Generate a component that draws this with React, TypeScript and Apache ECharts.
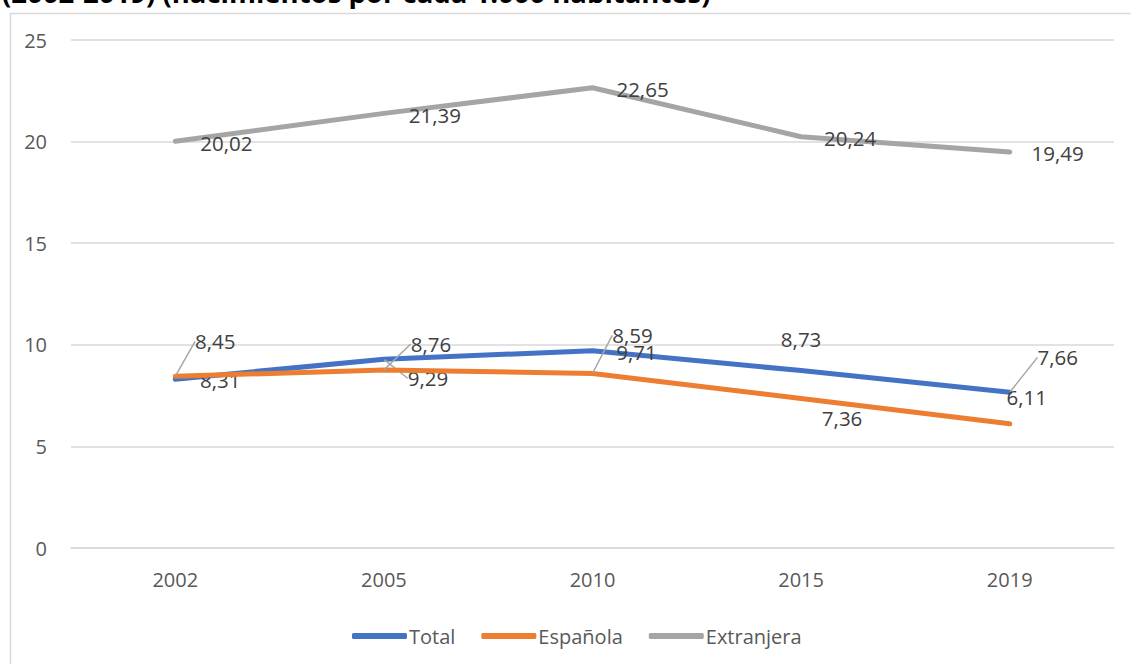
import React, { useEffect, useRef } from "react";
import * as echarts from "echarts";

const years = ["2002", "2005", "2010", "2015", "2019"];
const totalValues = [8.31, 9.29, 9.71, 8.73, 7.66];
const espanolaValues = [8.45, 8.76, 8.59, 7.36, 6.11];
const extranjeraValues = [20.02, 21.39, 22.65, 20.24, 19.49];
const seriesNames = ["Total", "Española", "Extranjera"];
const yTicks = { min: 0, max: 25, interval: 5 };
const titleText = "(2002-2019) (nacimientos por cada 1.000 habitantes)";

// label placement (center offset from point, px) and whether a leader line is shown
const totalLabelPos = [[45, 1], [44, 19], [44, 1], [0, -32], [48, -35]];
const totalLeader = [false, true, false, false, true];
const espLabelPos = [[40, -35], [47, -26], [40, -38], [41, 20], [17, -27]];
const espLeader = [true, true, true, false, false];
const extLabelPos = [[51, 2], [51, 2], [50, 1], [49, 1], [48, 1]];
const extLeader = [false, false, false, false, false];

const FONT = "'Open Sans', 'Noto Sans', sans-serif";
const COLORS = ["#4472C4", "#ED7D31", "#A5A5A5"];

const fmt = (v: number) => v.toFixed(2).replace(".", ",");

function makeSeries(name: string, values: number[], pos: number[][], leader: boolean[], z: number) {
  return {
    name,
    type: "line",
    z,
    data: values.map((v, i) => ({
      value: v,
      labelLine: { show: leader[i] },
    })),
    symbol: "circle",
    symbolSize: 1,
    showSymbol: true,
    lineStyle: { width: 5, cap: "round", join: "round" },
    label: {
      show: true,
      position: "inside",
      formatter: (p: any) => fmt(p.value),
      fontFamily: FONT,
      fontSize: 20.5,
      color: "#404040",
    },
    labelLine: {
      show: false,
      lineStyle: { color: "#A6A6A6", width: 1.5 },
    },
    labelLayout: (p: any) => ({ dx: pos[p.dataIndex][0], dy: pos[p.dataIndex][1] }),
    emphasis: { disabled: true },
  };
}

export default function App() {
  const ref = useRef<HTMLDivElement>(null);
  useEffect(() => {
    document.body.style.margin = "0";
    const chart = echarts.init(ref.current!, null, { renderer: "svg" });
    chart.setOption({
      animation: false,
      color: COLORS,
      backgroundColor: "#ffffff",
      textStyle: { fontFamily: FONT },
      graphic: [
        {
          type: "rect",
          left: 8,
          top: 11,
          shape: { x: 0, y: 0, width: 1200, height: 700 },
          style: { fill: "none", stroke: "#D9D9D9", lineWidth: 1.5 },
          silent: true,
          z: -1,
        },
        {
          type: "text",
          x: 2,
          y: -8,
          style: {
            text: titleText,
            fontFamily: FONT,
            fontWeight: "bold",
            fontSize: 27.5,
            fill: "#000000",
            verticalAlign: "middle",
            align: "left",
          },
        },
      ],
      grid: { left: 71, right: 17, top: 40, bottom: 116 },
      legend: {
        data: seriesNames,
        left: 347,
        top: 621,
        icon: "roundRect",
        itemWidth: 55,
        itemHeight: 6,
        itemGap: 26,
        textStyle: { fontFamily: FONT, fontSize: 20, color: "#595959", padding: [0, 0, 0, -3] },
        selectedMode: false,
      },
      xAxis: {
        type: "category",
        data: years,
        boundaryGap: true,
        axisLine: { show: true, lineStyle: { color: "#D9D9D9", width: 1.5 } },
        axisTick: { show: false },
        axisLabel: { fontFamily: FONT, fontSize: 20, color: "#595959", margin: 21 },
      },
      yAxis: {
        type: "value",
        min: yTicks.min,
        max: yTicks.max,
        interval: yTicks.interval,
        axisLine: { show: false },
        axisTick: { show: false },
        splitLine: { lineStyle: { color: "#D9D9D9", width: 1.5 } },
        axisLabel: { fontFamily: FONT, fontSize: 20, color: "#595959", margin: 24 },
      },
      series: [
        makeSeries(seriesNames[0], totalValues, totalLabelPos, totalLeader, 2),
        makeSeries(seriesNames[1], espanolaValues, espLabelPos, espLeader, 3),
        makeSeries(seriesNames[2], extranjeraValues, extLabelPos, extLeader, 2),
      ],
    });
    return () => chart.dispose();
  }, []);
  return <div ref={ref} style={{ width: 1131, height: 664 }} />;
}
